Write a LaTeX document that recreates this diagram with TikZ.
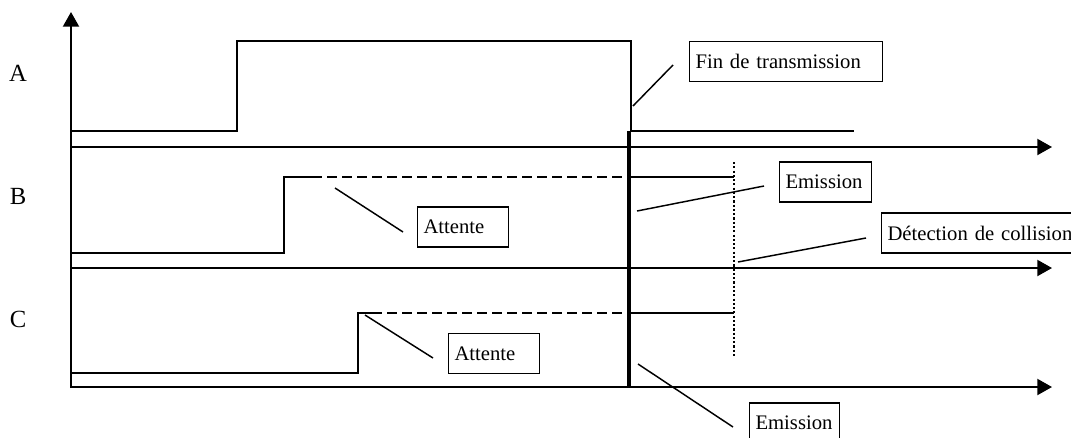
\documentclass[tikz,border=0pt]{standalone}
\usepackage{fontspec}
\setmainfont{Liberation Serif}
\usetikzlibrary{arrows.meta}

\begin{document}
\begin{tikzpicture}[x=0.75pt,y=-0.75pt]

\tikzset{box/.style = {draw, line width=0.8pt, anchor=west, align=left, inner xsep=4.5pt, inner ysep=0pt, minimum height=30pt, font=\fontsize{15.5}{18}\selectfont}}
\tikzset{nom/.style = {font=\fontsize{18.5}{20}\selectfont}}
\tikzset{axe/.style = {line width=1.5pt, -{Triangle[length=11pt,width=12pt]}}}
\tikzset{signal/.style = {line width=1.5pt}}
\tikzset{attente/.style = {signal, dash pattern=on 7.5pt off 3.75pt}}
\tikzset{renvoi/.style = {line width=1.1pt}}

\useasboundingbox (0,0) rectangle (1071,437);
\clip (0,0) rectangle (1071,437);

% axes
\coordinate (o) at (71,388);
\coordinate (haut) at (71,12);
\coordinate (a0) at (71,147);
\coordinate (a1) at (1052,147);
\coordinate (b0) at (71,268);
\coordinate (b1) at (1052,268);
\coordinate (c0) at (71,387);
\coordinate (c1) at (1052,387);
\draw[axe] (o) -- (haut);
\draw[axe] (a0) -- (a1);
\draw[axe] (b0) -- (b1);
\draw[axe] (c0) -- (c1);

% stations
\node[nom] (A) at (18,73) {A};
\node[nom] (B) at (18,196) {B};
\node[nom] (C) at (18,319) {C};

% signaux
\draw[signal] (71,131) -- (237,131) -- (237,41) -- (631,41) -- (631,131) -- (854,131);
\draw[signal] (71,253) -- (284,253) -- (284,177) -- (312,177);
\draw[attente] (312,177) -- (629,177);
\draw[signal] (629,177) -- (734,177);
\draw[signal] (71,373) -- (358,373) -- (358,313) -- (372,313);
\draw[attente] (372,313) -- (629,313);
\draw[signal] (629,313) -- (734,313);
\draw[line width=3pt] (629,131) -- (629,387);
\draw[line width=1.6pt, dash pattern=on 1.6pt off 1.6pt] (734,162) -- (734,357);

% etiquettes
\node[box, text width=135.75pt] (fin) at (689,61.5) {Fin de transmission};
\node[box, text width=60pt] (emB) at (779,182) {Emission};
\node[box, text width=147pt] (det) at (881,233) {Détection de collision};
\node[box, text width=59.25pt] (attB) at (417,227) {Attente};
\node[box, text width=59.25pt] (attC) at (448,353.5) {Attente};
\node[box, text width=58.5pt] (emC) at (749,423) {Emission};

% renvois
\coordinate (fin1) at (673,65);
\coordinate (fin2) at (633,106);
\coordinate (emB1) at (764,186);
\coordinate (emB2) at (637,211);
\coordinate (det1) at (866,238);
\coordinate (det2) at (738,262);
\coordinate (attB1) at (403,232);
\coordinate (attB2) at (335,188);
\coordinate (attC1) at (433,358);
\coordinate (attC2) at (365,315);
\coordinate (emC1) at (733,427);
\coordinate (emC2) at (638,364);
\draw[renvoi] (fin1) -- (fin2);
\draw[renvoi] (emB1) -- (emB2);
\draw[renvoi] (det1) -- (det2);
\draw[renvoi] (attB1) -- (attB2);
\draw[renvoi] (attC1) -- (attC2);
\draw[renvoi] (emC1) -- (emC2);

\end{tikzpicture}
\end{document}
